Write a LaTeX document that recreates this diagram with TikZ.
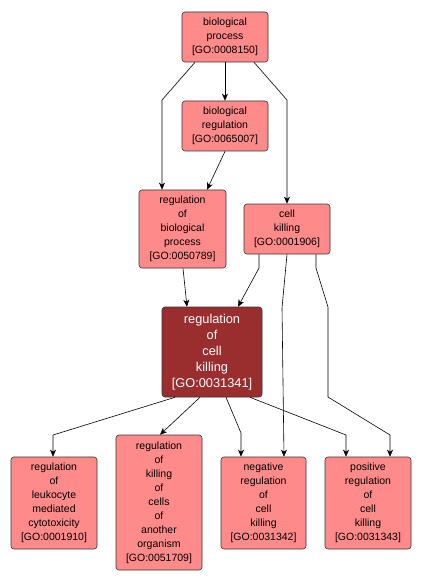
\documentclass[tikz,border=0pt]{standalone}
\usepackage{fontspec}
\setmainfont{Liberation Sans}
\usepackage{tikz}
\usetikzlibrary{arrows.meta}
\definecolor{GoLight}{HTML}{FF8A8A}
\definecolor{GoDark}{HTML}{9A2E2E}
\newcommand{\goid}[1]{{[GO:#1]}}

\begin{document}
\begin{tikzpicture}[x=1pt,y=-1pt,
  every node/.style={font=\fontsize{10.5}{14}\selectfont},
  term/.style={rectangle,rounded corners=3pt,draw=black!80,fill=GoLight,
    align=center,inner sep=0pt,line width=.6pt},
  focus/.style={term,fill=GoDark,text=white,font=\fontsize{12.8}{16}\selectfont},
  isa/.style={-{Stealth[length=7pt,width=6pt,inset=2pt]},line width=.6pt,color=black}]
\useasboundingbox (0,0) rectangle (421,585);
% terms
\node[term,minimum width=86pt,minimum height=50pt] (bp) at (225,37)
  {biological\\process\\\goid{0008150}};
\node[term,minimum width=86pt,minimum height=50pt] (breg) at (225,126)
  {biological\\regulation\\\goid{0065007}};
\node[term,minimum width=87pt,minimum height=78pt] (rbp) at (182.5,229)
  {regulation\\of\\biological\\process\\\goid{0050789}};
\node[term,minimum width=86pt,minimum height=50pt] (ck) at (287,229)
  {cell\\killing\\\goid{0001906}};
\node[focus,minimum width=100pt,minimum height=90pt] (rck) at (212,352)
  {regulation\\of\\cell\\killing\\\goid{0031341}};
\node[term,minimum width=86pt,minimum height=92pt] (rlmc) at (54,503)
  {regulation\\of\\leukocyte\\mediated\\cytotoxicity\\\goid{0001910}};
\node[term,minimum width=86pt,minimum height=135pt] (rkco) at (159,502.5)
  {regulation\\of\\killing\\of\\cells\\of\\another\\organism\\\goid{0051709}};
\node[term,minimum width=85pt,minimum height=92pt] (nrck) at (263.5,503)
  {negative\\regulation\\of\\cell\\killing\\\goid{0031342}};
\node[term,minimum width=86pt,minimum height=92pt] (prck) at (368,503)
  {positive\\regulation\\of\\cell\\killing\\\goid{0031343}};
% edges
\draw[isa] (bp.south) -- (breg.north);
\draw[isa] ([xshift=-30pt]bp.south) -- (162,100) -- ([xshift=-20.5pt]rbp.north);
\draw[isa] ([xshift=29pt]bp.south) -- (287,100) -- (ck.north);
\draw[isa] (breg.south) -- ([xshift=24.5pt]rbp.north);
\draw[isa] ([xshift=.5pt]rbp.south) -- ([xshift=-25pt]rck.north);
\draw[isa] ([xshift=-28pt]ck.south) -- (259,268) -- ([xshift=26pt]rck.north);
\draw[isa] (ck.south) -- (282,308) -- ([xshift=20.5pt]nrck.north);
\draw[isa] ([xshift=29pt]ck.south) -- (316,268) -- (328,307) -- (328,397)
  -- (390,435) -- ([xshift=22pt]prck.north);
\draw[isa] ([xshift=-37pt]rck.south) -- (53,435) -- ([xshift=-1pt]rlmc.north);
\draw[isa] ([xshift=-12pt]rck.south) -- ([xshift=1pt]rkco.north);
\draw[isa] ([xshift=14pt]rck.south) -- (241,433) -- ([xshift=-22.5pt]nrck.north);
\draw[isa] ([xshift=38pt]rck.south) -- (346,435) -- ([xshift=-22pt]prck.north);
\end{tikzpicture}
\end{document}
